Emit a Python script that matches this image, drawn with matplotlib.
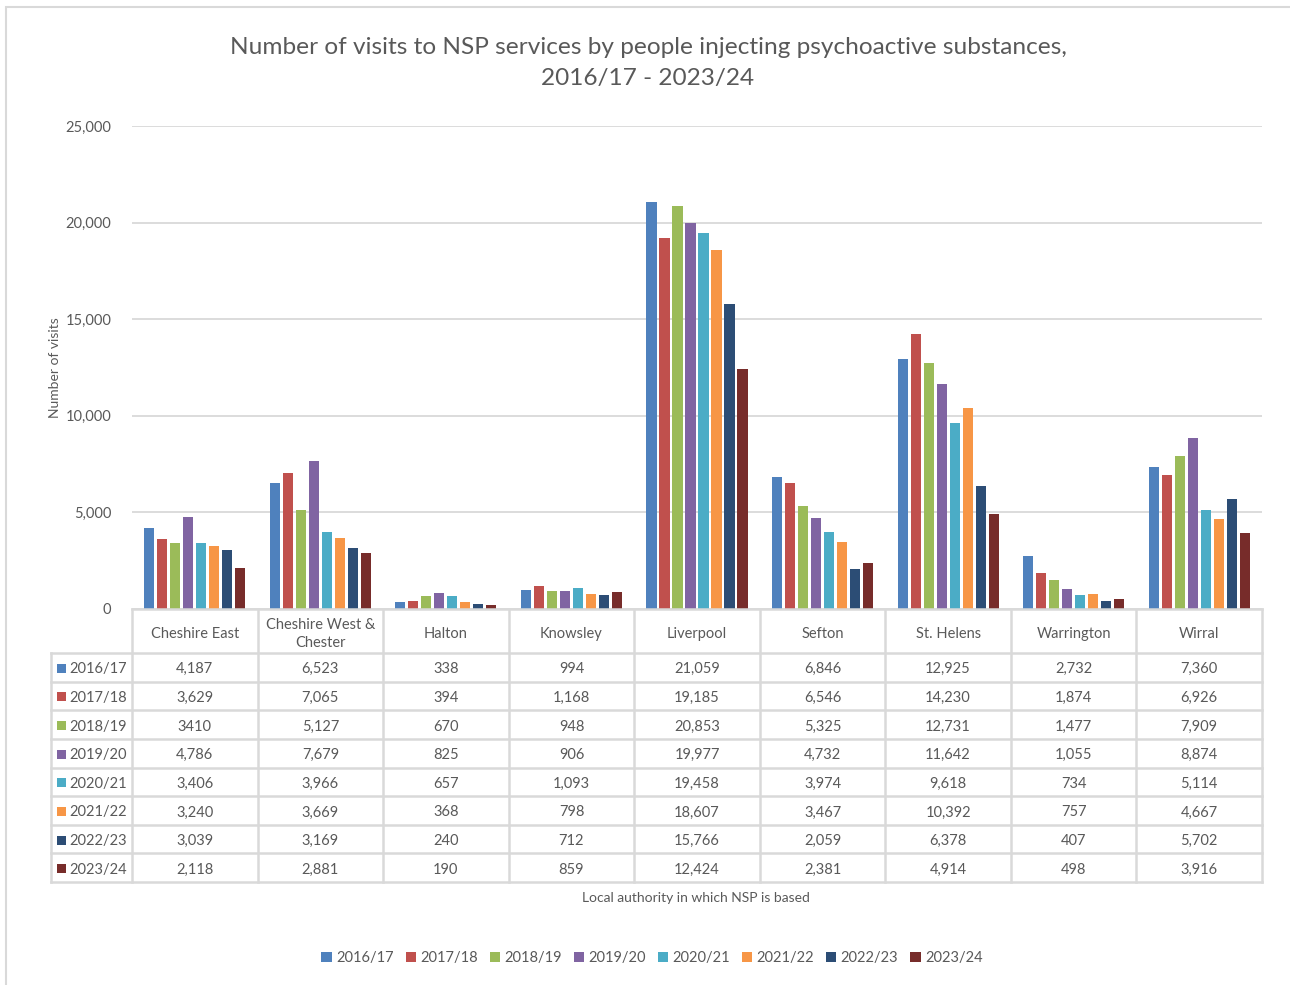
import matplotlib
matplotlib.use("Agg")
import matplotlib.pyplot as plt
from matplotlib.lines import Line2D
from matplotlib.patches import Rectangle
from matplotlib.ticker import FuncFormatter, MultipleLocator

plt.rcParams['font.family'] = ['Lato', 'DejaVu Sans']

categories = ["Cheshire East", "Cheshire West &\nChester", "Halton", "Knowsley",
              "Liverpool", "Sefton", "St. Helens", "Warrington", "Wirral"]
years = ["2016/17", "2017/18", "2018/19", "2019/20", "2020/21", "2021/22", "2022/23", "2023/24"]

v2016_17 = [4187, 6523, 338, 994, 21059, 6846, 12925, 2732, 7360]
v2017_18 = [3629, 7065, 394, 1168, 19185, 6546, 14230, 1874, 6926]
v2018_19 = [3410, 5127, 670, 948, 20853, 5325, 12731, 1477, 7909]
v2019_20 = [4786, 7679, 825, 906, 19977, 4732, 11642, 1055, 8874]
v2020_21 = [3406, 3966, 657, 1093, 19458, 3974, 9618, 734, 5114]
v2021_22 = [3240, 3669, 368, 798, 18607, 3467, 10392, 757, 4667]
v2022_23 = [3039, 3169, 240, 712, 15766, 2059, 6378, 407, 5702]
v2023_24 = [2118, 2881, 190, 859, 12424, 2381, 4914, 498, 3916]
series = [v2016_17, v2017_18, v2018_19, v2019_20, v2020_21, v2021_22, v2022_23, v2023_24]

# Table text as printed (one entry is shown without a thousands separator)
shown = [[f"{v:,}" for v in s] for s in series]
shown[2][0] = "3410"

colors = ["#4F81BD", "#C0504D", "#9BBB59", "#8064A2", "#4BACC6", "#F79646", "#2C4D75", "#772C2A"]
text_col = "#595959"
line_col = "#D9D9D9"

W, H = 1290, 985
fig = plt.figure(figsize=(W / 100, H / 100), dpi=100)


def fx(px):
    return px / W


def fy(py):
    return 1 - py / H


# outer chart frame
fig.add_artist(Rectangle((fx(6), fy(1000)), fx(1300) - fx(6), fy(7) - fy(1000),
                         transform=fig.transFigure, fill=False, edgecolor=line_col, lw=1.5))

left, right, top, bottom = 132, 1262, 126, 609
ax = fig.add_axes([fx(left), fy(bottom), fx(right) - fx(left), fy(top) - fy(bottom)])

n = len(series)
slot = 0.1035
bw = 0.08
handles = []
for j, (vals, c) in enumerate(zip(series, colors)):
    xs = [i + 0.5 + (j - (n - 1) / 2) * slot for i in range(len(categories))]
    b = ax.bar(xs, vals, width=bw, color=c, label=years[j], zorder=3)
    handles.append(b)

ax.set_xlim(0, len(categories))
ax.set_ylim(0, 25000)
ax.yaxis.set_major_locator(MultipleLocator(5000))
ax.yaxis.set_major_formatter(FuncFormatter(lambda v, p: f"{int(v):,}"))
ax.grid(axis="y", color=line_col, lw=1.3, zorder=0)
for s in ax.spines.values():
    s.set_visible(False)
ax.set_xticks([])
ax.tick_params(axis="y", length=0, pad=15, labelsize=10.5, labelcolor=text_col)
ax.set_ylabel("Number of visits", fontsize=10, color=text_col, labelpad=3)

# Title
fig.text(fx(648), fy(47), "Number of visits to NSP services by people injecting psychoactive substances,",
         ha="center", va="center", fontsize=17.6, color=text_col)
fig.text(fx(648), fy(78), "2016/17 - 2023/24", ha="center", va="center", fontsize=17.6, color=text_col)

# Data table below the plot
col_w = (right - left) / len(categories)
header_bot = 653
row_h = (882 - header_bot) / len(years)
tab_left = 51
lw_tab = 1.8


def hline(x0, x1, y):
    fig.add_artist(Line2D([fx(x0), fx(x1)], [fy(y), fy(y)], transform=fig.transFigure,
                          color=line_col, lw=lw_tab))


def vline(x, y0, y1):
    fig.add_artist(Line2D([fx(x), fx(x)], [fy(y0), fy(y1)], transform=fig.transFigure,
                          color=line_col, lw=lw_tab))


hline(left, right, bottom)
for k in range(len(years) + 1):
    hline(tab_left, right, header_bot + k * row_h)
vline(tab_left, header_bot, 882)
for i in range(len(categories) + 1):
    vline(left + i * col_w, bottom, 882)

for i, cat in enumerate(categories):
    cx = left + (i + 0.5) * col_w
    fig.text(fx(cx), fy((bottom + header_bot) / 2 + 3), cat, ha="center", va="center",
             fontsize=10.5, color=text_col, linespacing=1.3)

for j, yr in enumerate(years):
    cy = header_bot + (j + 0.5) * row_h + 2
    fig.add_artist(Rectangle((fx(57), fy(cy + 3.5)), fx(66) - fx(57), fy(cy - 5.5) - fy(cy + 3.5),
                             transform=fig.transFigure, color=colors[j], lw=0))
    fig.text(fx(69), fy(cy), yr, ha="left", va="center", fontsize=10.5, color=text_col)
    for i in range(len(categories)):
        cx = left + (i + 0.5) * col_w
        fig.text(fx(cx), fy(cy), shown[j][i], ha="center", va="center", fontsize=10.5, color=text_col)

fig.text(fx(696), fy(898), "Local authority in which NSP is based", ha="center", va="center",
         fontsize=10, color=text_col)

fig.legend(handles=handles, labels=years, loc="center", bbox_to_anchor=(fx(652), fy(958)),
           ncol=8, frameon=False, fontsize=10.5, handlelength=0.7, handleheight=0.7,
           handletextpad=0.3, columnspacing=0.82, labelcolor=text_col)

fig.savefig("out.png", dpi=100, facecolor="white")
